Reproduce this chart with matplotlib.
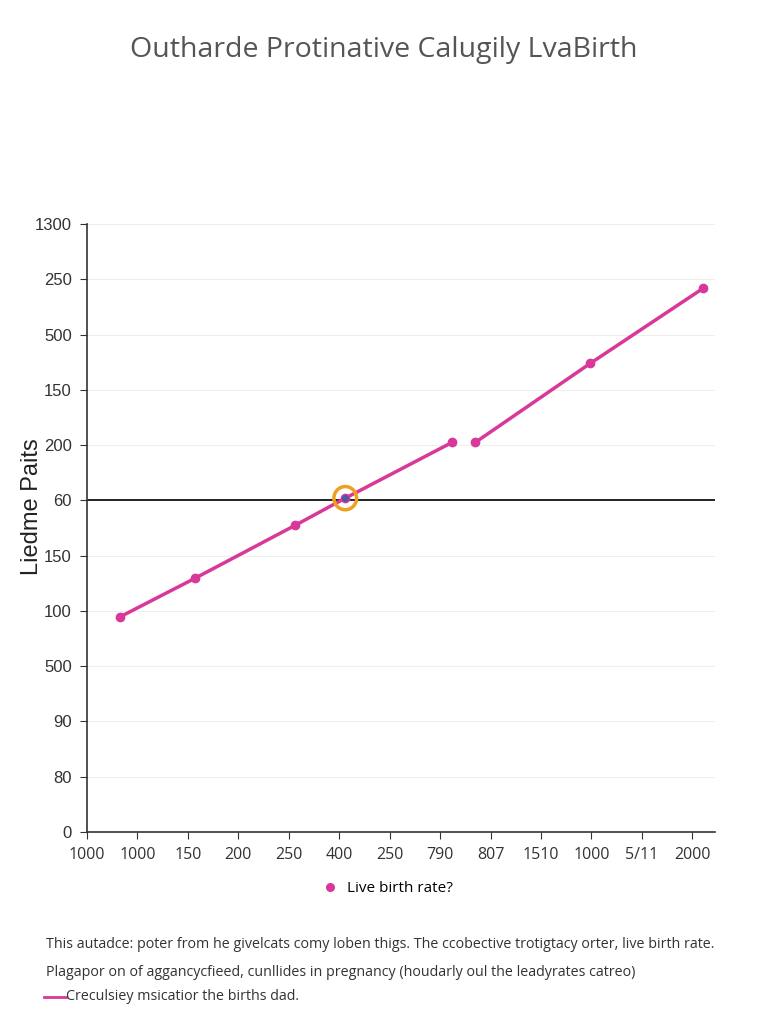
import matplotlib
matplotlib.use("Agg")
import matplotlib.pyplot as plt
from matplotlib.lines import Line2D
from matplotlib.patches import Ellipse
import numpy as np

plt.rcParams['font.family'] = ['Open Sans', 'DejaVu Sans']

# ---- data ----
x_tick_labels = ["1000", "1000", "150", "200", "250", "400", "250", "790",
                 "807", "1510", "1000", "5/11", "2000"]
y_tick_labels = ["0", "80", "90", "500", "100", "150", "60", "200",
                 "150", "500", "250", "1300"]
seg1_x = [0.65, 2.14, 4.13, 5.12, 7.24]
seg1_y = [3.89, 4.59, 5.55, 6.04, 7.05]
seg2_x = [7.70, 9.98, 12.22]
seg2_y = [7.05, 8.48, 9.84]
ref_level = 6.0
highlight_x = 5.12
highlight_y = 6.04

title = "Outharde Protinative Calugily LvaBirth"
ylabel = "Liedme Paits"
legend_label = "Live birth rate?"
caption1 = "This autadce: poter from he givelcats comy loben thigs. The ccobective trotigtacy orter, live birth rate."
caption2 = "Plagapor on of aggancycfieed, cunllides in pregnancy (houdarly oul the leadyrates catreo)"
caption3 = "Creculsiey msicatior the births dad."

color = "#d8389a"

fig = plt.figure(figsize=(7.68, 10.24), dpi=100)
ax = fig.add_axes([87/768, 1 - 832/1024, (715-87)/768, (832-224)/1024])

ax.plot(seg1_x, seg1_y, color=color, lw=2.5, marker='o', ms=6, solid_capstyle='round')
ax.plot(seg2_x, seg2_y, color=color, lw=2.5, marker='o', ms=6, solid_capstyle='round')
ax.axhline(ref_level, color='black', lw=1.2, zorder=1)
ax.plot([highlight_x], [highlight_y], marker='o', ms=4, color='#4a5aa8', zorder=4)
ax.add_patch(Ellipse((highlight_x, highlight_y), 0.45, 0.42, fill=False,
                     ec='#f0a020', lw=2.5, zorder=5))

ax.set_xlim(0, 12.45)
ax.set_ylim(0, 11)
ax.set_xticks(range(len(x_tick_labels)))
ax.set_xticklabels(x_tick_labels, fontsize=11.5, color='#333333')
ax.set_yticks(range(len(y_tick_labels)))
ax.set_yticklabels(y_tick_labels, fontsize=12, color='#333333',
                   family=['Liberation Sans', 'DejaVu Sans'])
ax.grid(axis='y', color='#eeeeee', lw=0.8)
ax.set_axisbelow(True)
for s in ['top', 'right']:
    ax.spines[s].set_visible(False)
for s in ['left', 'bottom']:
    ax.spines[s].set_color('#333333')
    ax.spines[s].set_linewidth(1.2)
ax.tick_params(axis='both', length=5, color='#333333', pad=6)
ax.set_ylabel(ylabel, fontsize=17, color='#222222',
              family=['Liberation Sans', 'DejaVu Sans'])
ax.yaxis.set_label_coords(-0.07, 0.535)

fig.text(0.5, 1 - 50/1024, title, ha='center', va='center', fontsize=20.5,
         color='#555555')

legend_handle = Line2D([], [], color=color, marker='o', lw=0, ms=5.5)
fig.legend([legend_handle], [legend_label], loc='center',
           bbox_to_anchor=(0.5, 1 - 889/1024), frameon=False, fontsize=11,
           handletextpad=0.1)

fig.text(46/768, 1 - 944/1024, caption1, fontsize=10.3, color='#333333', va='center')
fig.text(46/768, 1 - 972/1024, caption2, fontsize=10.3, color='#333333', va='center')
fig.add_artist(Line2D([44/768, 66/768], [1 - 997/1024, 1 - 997/1024],
                      color=color, lw=2, transform=fig.transFigure))
fig.text(66/768, 1 - 997/1024, caption3, fontsize=10.3, color='#333333', va='center')

fig.savefig("out.png", dpi=100, facecolor='white')
